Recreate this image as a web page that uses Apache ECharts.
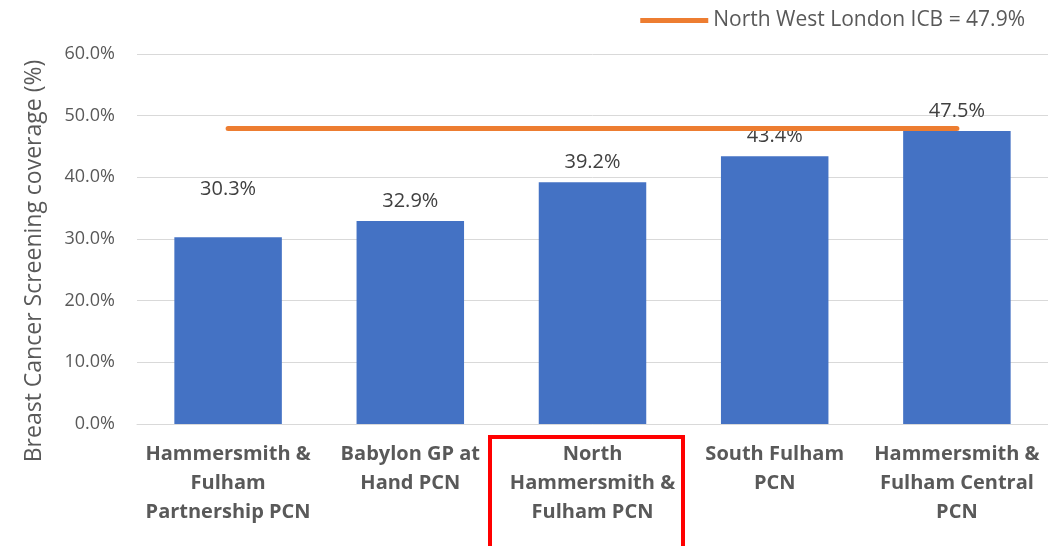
<!DOCTYPE html>
<html>
<head>
<meta charset="utf-8">
<script src="https://cdn.jsdelivr.net/npm/echarts@6/dist/echarts.min.js"></script>
<style>
html,body{margin:0;padding:0;background:#fff;}
#chart{width:1048px;height:546px;}
</style>
</head>
<body>
<div id="chart"></div>
<script>
// 数据
var categories = [
    'Hammersmith &\nFulham\nPartnership PCN',
    'Babylon GP at\nHand PCN',
    'North\nHammersmith &\nFulham PCN',
    'South Fulham\nPCN',
    'Hammersmith &\nFulham Central\nPCN'
];
var coverage = [30.3, 32.9, 39.2, 43.4, 47.5];
var icbName = 'North West London ICB = 47.9%';
var icbValue = 47.9;
var icbLine = categories.map(function(){ return icbValue; });
var yTicks = { min: 0, max: 60, interval: 10 };

var textColor = '#595959';
var font = 'Open Sans';

var chart = echarts.init(document.getElementById('chart'));

var option = {
    animation: false,
    textStyle: { fontFamily: font },
    grid: { left: 137, right: 0, top: 54, bottom: 122 },
    legend: {
        data: [icbName],
        right: 18,
        top: 5,
        icon: 'rect',
        itemWidth: 68,
        itemHeight: 5,
        itemGap: 2,
        textStyle: { color: textColor, fontSize: 21, fontFamily: font }
    },
    xAxis: {
        type: 'category',
        data: categories,
        axisTick: { show: false },
        axisLine: { lineStyle: { color: '#d9d9d9', width: 1 } },
        axisLabel: {
            interval: 0,
            color: textColor,
            fontSize: 20,
            fontWeight: 'bold',
            lineHeight: 29,
            margin: 16
        }
    },
    yAxis: {
        type: 'value',
        min: yTicks.min,
        max: yTicks.max,
        interval: yTicks.interval,
        name: 'Breast Cancer Screening coverage (%)',
        nameLocation: 'middle',
        nameGap: 91,
        nameTextStyle: { color: textColor, fontSize: 23, padding: [0, 44, 0, 0] },
        splitLine: { lineStyle: { color: '#d9d9d9', width: 1 } },
        axisLine: { show: false },
        axisTick: { show: false },
        axisLabel: {
            color: textColor,
            fontSize: 18,
            margin: 22,
            formatter: function(v){ return v.toFixed(1) + '%'; }
        }
    },
    series: [
        {
            name: 'coverage',
            type: 'bar',
            barWidth: '59%',
            itemStyle: { color: '#4472C4' },
            label: {
                show: true,
                position: 'top',
                distance: 10,
                color: '#404040',
                fontSize: 20,
                formatter: function(p){ return p.value.toFixed(1) + '%'; }
            },
            data: coverage.map(function(v, i){
                // 第一个标签在原图里被挪高了
                return i === 0 ? { value: v, label: { offset: [0, -28] } } : v;
            })
        },
        {
            name: icbName,
            type: 'line',
            data: icbLine,
            symbol: 'none',
            lineStyle: { color: '#ED7D31', width: 5, cap: 'round' },
            itemStyle: { color: '#ED7D31' },
            z: 5
        }
    ],
    graphic: [
        {
            type: 'rect',
            shape: { x: 490, y: 437, width: 193, height: 112 },
            style: { fill: 'none', stroke: '#FF0000', lineWidth: 4 }
        }
    ]
};
chart.setOption(option);
</script>
</body>
</html>
